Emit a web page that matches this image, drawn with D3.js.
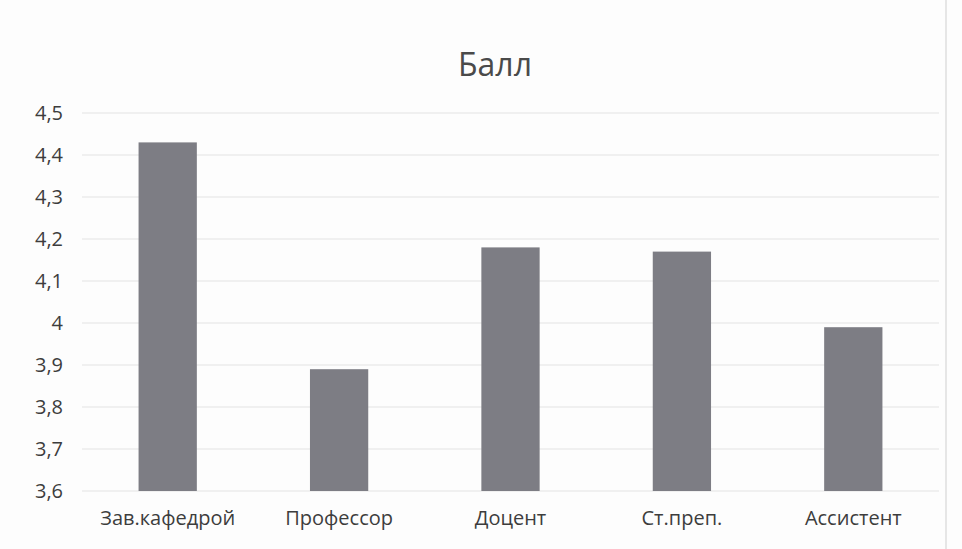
<!DOCTYPE html>
<html>
<head>
<meta charset="utf-8">
<script src="https://cdn.jsdelivr.net/npm/d3@7/dist/d3.min.js"></script>
<style>
html,body{margin:0;padding:0;background:#fff;}
svg{display:block;}
</style>
</head>
<body>
<svg id="chart" width="962" height="549"></svg>
<script>
const categories = ["Зав.кафедрой", "Профессор", "Доцент", "Ст.преп.", "Ассистент"];
const values = [4.43, 3.89, 4.18, 4.17, 3.99];
const yTicks = [3.6, 3.7, 3.8, 3.9, 4.0, 4.1, 4.2, 4.3, 4.4, 4.5];
const title = "Балл";

const svg = d3.select("#chart");
const W = 962, H = 549;
const m = {left: 82, right: 23, top: 113, bottom: 57};
const font = "'Open Sans', sans-serif";

svg.append("rect").attr("width", W).attr("height", H).attr("fill", "#fdfdfd");
svg.append("line").attr("x1", 946).attr("x2", 946).attr("y1", 0).attr("y2", H)
  .attr("stroke", "#e6e6e6").attr("stroke-width", 2);

const x = d3.scaleBand().domain(categories).range([m.left, W - m.right]).paddingInner(0.66).paddingOuter(0.33);
const y = d3.scaleLinear().domain([3.6, 4.5]).range([H - m.bottom - 1, m.top]);

const fmt = d => d3.format("~g")(d).replace(".", ",");

// gridlines
svg.append("g")
  .selectAll("line").data(yTicks).join("line")
  .attr("x1", m.left).attr("x2", W - m.right)
  .attr("y1", d => y(d)).attr("y2", d => y(d))
  .attr("stroke", "#e3e3e3").attr("stroke-width", 1.2);

// y axis
const yAxis = svg.append("g").attr("transform", `translate(63,0)`)
  .call(d3.axisLeft(y).tickValues(yTicks).tickFormat(fmt).tickSize(0).tickPadding(0));
yAxis.select(".domain").remove();
yAxis.selectAll("text").attr("font-family", font).attr("font-size", 20).attr("fill", "#3d3d3d");

// bars
svg.append("g").selectAll("rect").data(values).join("rect")
  .attr("x", (d, i) => x(categories[i]))
  .attr("width", x.bandwidth())
  .attr("y", d => y(d))
  .attr("height", d => y(3.6) - y(d))
  .attr("fill", "#7d7d84");

// x axis
const xAxis = svg.append("g").attr("transform", `translate(0,${H - m.bottom})`)
  .call(d3.axisBottom(x).tickSize(0).tickPadding(19));
xAxis.select(".domain").remove();
xAxis.selectAll("text").attr("font-family", font).attr("font-size", 20).attr("fill", "#3d3d3d");

// title
svg.append("text").attr("x", 495).attr("y", 76)
  .attr("text-anchor", "middle").attr("font-family", font).attr("font-size", 32)
  .attr("fill", "#4a4a4a").text(title);
</script>
</body>
</html>
